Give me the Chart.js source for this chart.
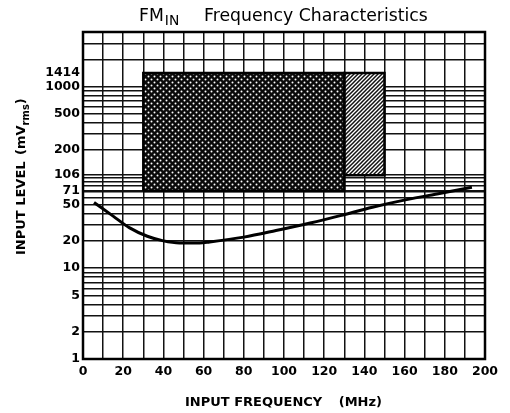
<!DOCTYPE html>
<html>
<head>
<meta charset="utf-8">
<script src="https://cdn.jsdelivr.net/npm/chart.js@4"></script>
<style>
  html, body { margin: 0; padding: 0; background: #fff; }
  canvas { display: block; }
</style>
</head>
<body>
<canvas id="myChart" width="510" height="413"></canvas>
<script>
// tick labels
const xTickLabels = [0, 20, 40, 60, 80, 100, 120, 140, 160, 180, 200];
const yTickLabels = [1, 2, 5, 10, 20, 50, 71, 106, 200, 500, 1000, 1414];
// horizontal grid lines (log paper)
const yGridLines = [1, 2, 3, 4, 5, 6, 7, 8, 9,
                    10, 20, 30, 40, 50, 60, 70, 71, 80, 90,
                    100, 106, 200, 300, 400, 500, 600, 700, 800, 900,
                    1000, 1414, 2000, 3000, 4000];

// sensitivity curve (MHz, mVrms)
const curveFreq  = [5.5, 15, 23, 32, 40, 48, 58, 63, 80, 96, 113, 128, 144, 161, 178, 193.5];
const curveLevel = [53, 37.5, 28, 22.5, 20, 19, 19, 19.5, 22, 26, 31.5, 38, 47, 57, 67, 78];

// operating areas
const crossFreq  = [30, 130];
const crossLevel = [71, 1414];
const hatchFreq  = [130, 150];
const hatchLevel = [106, 1414];

function rectPoints(fr, lv) {
    return [
        {x: fr[0], y: lv[0]}, {x: fr[0], y: lv[1]},
        {x: fr[1], y: lv[1]}, {x: fr[1], y: lv[0]},
        {x: fr[0], y: lv[0]}
    ];
}

function crossPattern() {
    const c = document.createElement('canvas');
    c.width = 6; c.height = 6;
    const g = c.getContext('2d');
    g.fillStyle = '#0a0a0a';
    g.fillRect(0, 0, 6, 6);
    g.fillStyle = '#fff';
    [[1.5, 1.5], [4.5, 4.5]].forEach(p => {
        g.beginPath();
        g.arc(p[0], p[1], 1.0, 0, Math.PI * 2);
        g.fill();
    });
    return g.createPattern(c, 'repeat');
}

function hatchPattern() {
    const c = document.createElement('canvas');
    c.width = 4; c.height = 4;
    const g = c.getContext('2d');
    g.fillStyle = '#fff';
    g.fillRect(0, 0, 4, 4);
    g.strokeStyle = '#111';
    g.lineWidth = 1.5;
    g.beginPath();
    g.moveTo(-1, 5); g.lineTo(5, -1);
    g.moveTo(-1, 1); g.lineTo(1, -1);
    g.moveTo(3, 5); g.lineTo(5, 3);
    g.stroke();
    return g.createPattern(c, 'repeat');
}

const tickFont = {family: '"DejaVu Sans"', size: 12.5, weight: 'bold'};

// frame + titles with subscripts
const decorations = {
    id: 'decorations',
    afterDraw(chart) {
        const ctx = chart.ctx;
        const a = chart.chartArea;
        ctx.save();
        ctx.strokeStyle = '#000';
        ctx.lineWidth = 2.5;
        ctx.strokeRect(a.left, a.top, a.right - a.left, a.bottom - a.top);

        ctx.fillStyle = '#000';
        ctx.textBaseline = 'alphabetic';
        // title, sized so the text spans the same width as in the original
        const main = 'Frequency Characteristics';
        ctx.font = '15px "DejaVu Sans"';
        const size = 15 * 224 / ctx.measureText(main).width;
        ctx.font = size + 'px "DejaVu Sans"';
        ctx.fillText(main, 204, 21);
        ctx.fillText('FM', 139, 21);
        let w = ctx.measureText('FM').width;
        ctx.font = (size * 0.8) + 'px "DejaVu Sans"';
        ctx.fillText('IN', 139 + w + 1, 25);

        // x title
        ctx.font = 'bold 13px "DejaVu Sans"';
        ctx.fillText('INPUT FREQUENCY', 185, 406);
        ctx.textAlign = 'right';
        ctx.fillText('(MHz)', 382, 406);
        ctx.textAlign = 'left';

        // y title
        ctx.translate(25, 255);
        ctx.rotate(-Math.PI / 2);
        ctx.font = 'bold 13px "DejaVu Sans"';
        ctx.fillText('INPUT LEVEL', 0, 0);
        let x = 100;
        ctx.fillText('(mV', x, 0);
        x += ctx.measureText('(mV').width;
        ctx.font = 'bold 10px "DejaVu Sans"';
        ctx.fillText('rms', x, 4);
        x += ctx.measureText('rms').width;
        ctx.font = 'bold 13px "DejaVu Sans"';
        ctx.fillText(')', x, 0);
        ctx.restore();
    }
};

function chartIt() {
    const ctx = document.getElementById('myChart').getContext('2d');
    const chart = new Chart(ctx, {
        type: 'line',
        data: {
            datasets: [{
                // sensitivity curve
                data: curveFreq.map((f, i) => ({x: f, y: curveLevel[i]})),
                borderColor: '#000',
                borderWidth: 3,
                pointRadius: 0,
                cubicInterpolationMode: 'monotone',
                fill: false,
                order: 0
            }, {
                data: rectPoints(crossFreq, crossLevel),
                borderColor: '#000',
                borderWidth: 2.5,
                backgroundColor: crossPattern(),
                pointRadius: 0,
                tension: 0,
                fill: 'shape',
                order: 1
            }, {
                data: rectPoints(hatchFreq, hatchLevel),
                borderColor: '#000',
                borderWidth: 2.5,
                backgroundColor: hatchPattern(),
                pointRadius: 0,
                tension: 0,
                fill: 'shape',
                order: 2
            }]
        },
        options: {
            responsive: false,
            animation: false,
            layout: {padding: {top: 32, right: 25, left: 0, bottom: 0}},
            plugins: {
                legend: {display: false},
                tooltip: {enabled: false},
                title: {display: false}
            },
            scales: {
                x: {
                    type: 'linear',
                    min: 0,
                    max: 200,
                    ticks: {
                        stepSize: 10,
                        autoSkip: false,
                        maxRotation: 0,
                        padding: 5,
                        color: '#000',
                        font: tickFont,
                        callback: v => xTickLabels.includes(v) ? String(v) : ''
                    },
                    grid: {color: '#111', lineWidth: 1.5, drawTicks: false},
                    border: {display: false},
                    afterFit: s => { s.height = 54; }
                },
                y: {
                    type: 'logarithmic',
                    min: 1,
                    max: 4000,
                    afterBuildTicks: s => { s.ticks = yGridLines.map(v => ({value: v})); },
                    ticks: {
                        autoSkip: false,
                        padding: 3,
                        color: '#000',
                        font: tickFont,
                        callback: v => yTickLabels.includes(v) ? String(v) : ''
                    },
                    grid: {
                        color: c => (c.tick && c.tick.value === 1414) ? 'rgba(0,0,0,0)' : '#111',
                        lineWidth: 1.5,
                        drawTicks: false
                    },
                    border: {display: false},
                    afterFit: s => { s.width = 83; }
                }
            }
        },
        plugins: [decorations]
    });
}
chartIt();
</script>
</body>
</html>
